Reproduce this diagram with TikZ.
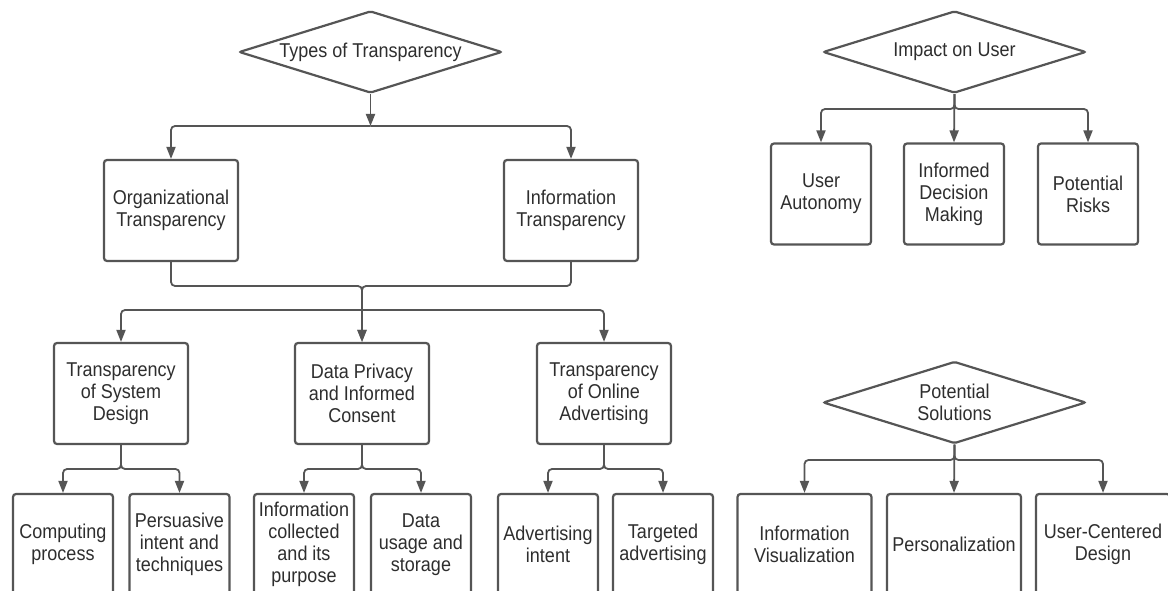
\documentclass[tikz,border=0pt]{standalone}
\usepackage{fontspec}
\setmainfont{Liberation Sans}[FakeStretch=0.9]
\usetikzlibrary{shapes.geometric,arrows.meta}
\definecolor{linec}{HTML}{555555}
\definecolor{textc}{HTML}{2E2E2E}
\tikzset{
  lbl/.style={align=center, text=textc, font=\fontsize{20}{22}\selectfont},
  box/.style={lbl, draw=linec, line width=2.2pt, rounded corners=3pt, inner sep=0pt},
  bigbox/.style={box, minimum width=134pt, minimum height=101pt},
  smallbox/.style={box, minimum width=100pt, minimum height=101pt},
  dia/.style={lbl, draw=linec, line width=2.2pt, diamond, aspect=3.2, minimum width=263pt, minimum height=82pt, inner sep=0pt, rounded corners=2pt},
  conn/.style={draw=linec, line width=1.8pt, rounded corners=4pt},
  arr/.style={conn, -{Triangle[width=9pt,length=12pt]}},
}
\begin{document}
\begin{tikzpicture}[x=1pt,y=1pt]
\useasboundingbox (0,0) rectangle (1168,-591);
\clip (0,0) rectangle (1168,-591);
\fill[white] (0,0) rectangle (1168,-591);

% ---- Types of Transparency tree
\node[dia] (d1) at (370.5,-52) {Types of Transparency};
\node[bigbox] (org) at (171,-210.5) {Organizational\\Transparency};
\node[bigbox] (info) at (571,-210.5) {Information\\Transparency};
\coordinate (j1) at (370.5,-126);
\coordinate (j2) at (362,-286);
\coordinate (j3) at (362,-310);

\node[bigbox] (tsd) at (121,-393.5) {Transparency\\of System\\Design};
\node[bigbox] (dpic) at (362,-393.5) {Data Privacy\\and Informed\\Consent};
\node[bigbox] (toa) at (604,-393.5) {Transparency\\of Online\\Advertising};

\node[smallbox] (comp) at (63,-544.5) {Computing\\process};
\node[smallbox] (pers) at (179.5,-544.5) {Persuasive\\intent and\\techniques};
\node[smallbox] (icoll) at (304,-544.5) {Information\\collected\\and its\\purpose};
\node[smallbox] (dusage) at (421,-544.5) {Data\\usage and\\storage};
\node[smallbox] (adint) at (548,-544.5) {Advertising\\intent};
\node[smallbox] (targ) at (663,-544.5) {Targeted\\advertising};

\draw[arr] (d1.south) -- (j1);
\draw[arr] (j1) -| (org.north);
\draw[arr] (j1) -| (info.north);
\draw[arr] (org.south) |- (j2) -- (dpic.north);
\draw[arr] (info.south) |- (j2) -- (dpic.north);
\draw[arr] (j3) -| (tsd.north);
\draw[arr] (j3) -| (toa.north);

\coordinate (k1) at (121,-469);
\coordinate (k2) at (362,-469);
\coordinate (k3) at (604,-469);
\draw[arr] (tsd.south) -- (k1) -| (comp.north);
\draw[arr] (tsd.south) -- (k1) -| (pers.north);
\draw[arr] (dpic.south) -- (k2) -| (icoll.north);
\draw[arr] (dpic.south) -- (k2) -| (dusage.north);
\draw[arr] (toa.south) -- (k3) -| (adint.north);
\draw[arr] (toa.south) -- (k3) -| (targ.north);

% ---- Impact on User
\node[dia] (d2) at (954.5,-52) {Impact on User};
\node[smallbox] (ua) at (821,-194) {User\\Autonomy};
\node[smallbox] (idm) at (954,-194) {Informed\\Decision\\Making};
\node[smallbox] (pr) at (1088,-194) {Potential\\Risks};
\coordinate (m1) at (954.5,-109);
\draw[arr] (d2.south) -- (idm.north);
\draw[arr] (d2.south) -- (m1) -| (ua.north);
\draw[arr] (d2.south) -- (m1) -| (pr.north);

% ---- Potential Solutions
\node[dia] (d3) at (954.5,-402.5) {Potential\\Solutions};
\node[bigbox] (iv) at (804.5,-544.5) {Information\\Visualization};
\node[bigbox] (pz) at (954,-544.5) {Personalization};
\node[bigbox] (ucd) at (1103,-544.5) {User-Centered\\Design};
\coordinate (s1) at (954.5,-460);
\draw[arr] (d3.south) -- (pz.north);
\draw[arr] (d3.south) -- (s1) -| (iv.north);
\draw[arr] (d3.south) -- (s1) -| (ucd.north);
\end{tikzpicture}
\end{document}
